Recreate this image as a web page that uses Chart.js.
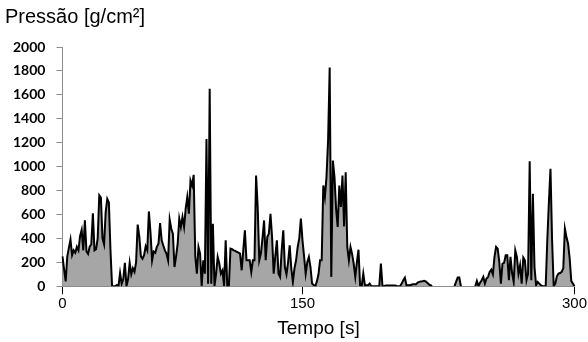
<!DOCTYPE html>
<html>
<head>
<meta charset="utf-8">
<script src="https://cdn.jsdelivr.net/npm/chart.js@4/dist/chart.umd.min.js"></script>
<style>
  html, body { margin: 0; padding: 0; background: #fff; }
  canvas { display: block; }
</style>
</head>
<body>
<canvas id="pressureChart" width="588" height="342"></canvas>
<script>
// Pressure readings, one per second
const pressure = [
    250, 140, 40, 250, 320, 390, 260, 300, 280, 330,
    300, 420, 470, 300, 550, 290, 270, 330, 350, 610,
    300, 310, 400, 760, 740, 400, 350, 620, 730, 700,
    300, 0, 0, 0, 10, 0, 110, 20, 60, 195,
    0, 60, 195, 100, 150, 120, 200, 515, 417, 250,
    230, 260, 333, 300, 625, 450, 217, 290, 280, 330,
    355, 528, 383, 340, 300, 272, 217, 556, 480, 440,
    160, 250, 355, 565, 495, 578, 495, 648, 745, 606,
    884, 842, 931, 250, 105, 328, 272, 0, 217, 105,
    1230, 20, 1650, 20, 522, 0, 105, 245, 190, 105,
    133, 0, 383, 0, 0, 314, 310, 300, 295, 286,
    280, 272, 133, 300, 467, 217, 217, 217, 120, 217,
    217, 926, 662, 217, 272, 400, 550, 217, 411, 440,
    606, 411, 105, 250, 383, 105, 78, 300, 467, 160,
    100, 200, 342, 150, 36, 150, 217, 328, 400, 565,
    383, 250, 105, 200, 245, 160, 22, 10, 0, 40,
    100, 217, 217, 842, 745, 912, 1218, 1829, 78, 1050,
    912, 648, 495, 842, 662, 926, 500, 953, 328, 217,
    328, 270, 189, 78, 200, 305, 8, 0, 105, 8,
    8, 8, 22, 0, 0, 0, 0, 0, 0, 189,
    0, 0, 5, 5, 5, 5, 5, 5, 5, 0,
    0, 0, 22, 50, 72, 8, 8, 8, 12, 16,
    16, 16, 30, 36, 40, 42, 45, 40, 28, 15,
    8, 0, null, null, null, null, null, null, null, null,
    null, null, null, null, null, 0, 36, 72, 72, 0,
    null, null, null, null, null, null, null, null, 0, 44,
    0, 30, 50, 78, 22, 65, 78, 120, 139, 100,
    245, 328, 314, 203, 22, 189, 195, 259, 259, 50,
    245, 110, 36, 300, 245, 105, 175, 22, 239, 217,
    50, 105, 1045, 50, 773, 160, 8, 36, 22, 8,
    0, 0, 0, 384, 700, 981, 384, 0, 22, 83,
    105, 110, 120, 150, 481, 411, 356, 230, 44, 22,
    0
];

// Categories (sample index) and the labelled ticks on the time axis
const seconds = pressure.map((v, i) => i);
const xTickIndex = [0, 150, 320];
const xTickLabels = ['0', '150', '300'];
const yTicks = [0, 200, 400, 600, 800, 1000, 1200, 1400, 1600, 1800, 2000];

// Draws the y axis title horizontally above the plot
const yTitlePlugin = {
    id: 'yTitle',
    afterDraw(chart) {
        const ctx = chart.ctx;
        ctx.save();
        ctx.fillStyle = '#000';
        ctx.font = '20px "Liberation Sans", Arial, sans-serif';
        ctx.textAlign = 'left';
        ctx.textBaseline = 'middle';
        ctx.fillText('Pressão [g/cm²]', 5, 17);
        ctx.restore();
    }
};

const ctx = document.getElementById('pressureChart').getContext('2d');
new Chart(ctx, {
    type: 'line',
    data: {
        labels: seconds,
        datasets: [{
            data: pressure,
            borderColor: '#000000',
            borderWidth: 2,
            backgroundColor: '#a6a6a6',
            fill: 'origin',
            pointRadius: 0,
            tension: 0,
            spanGaps: false
        }]
    },
    options: {
        responsive: false,
        animation: false,
        devicePixelRatio: 1,
        layout: {
            padding: { left: 2, right: 0, top: 47, bottom: 2 }
        },
        plugins: {
            legend: { display: false },
            tooltip: { enabled: false }
        },
        scales: {
            x: {
                type: 'category',
                offset: false,
                grid: {
                    drawOnChartArea: false,
                    color: '#000',
                    tickLength: 8
                },
                border: { color: '#8c8c8c', width: 1 },
                ticks: {
                    autoSkip: false,
                    maxRotation: 0,
                    color: '#000',
                    padding: 1,
                    font: { family: '"Liberation Sans", Arial, sans-serif', size: 15 },
                    callback: function (val, idx) {
                        const k = xTickIndex.indexOf(idx);
                        return k >= 0 ? xTickLabels[k] : null;
                    }
                },
                title: {
                    display: true,
                    text: 'Tempo [s]',
                    color: '#000',
                    padding: { top: 3, bottom: 0 },
                    font: { family: '"Liberation Sans", Arial, sans-serif', size: 19 }
                }
            },
            y: {
                min: 0,
                max: 2000,
                afterBuildTicks: function (axis) {
                    axis.ticks = yTicks.map(v => ({ value: v }));
                },
                grid: {
                    drawOnChartArea: false,
                    color: '#8c8c8c',
                    tickLength: 6
                },
                border: { color: '#8c8c8c', width: 1 },
                ticks: {
                    color: '#000',
                    padding: 11,
                    font: { family: 'Lato, "Open Sans", sans-serif', size: 14, weight: 'bold' },
                    callback: function (val) {
                        return String(val);
                    }
                }
            }
        }
    },
    plugins: [yTitlePlugin]
});
</script>
</body>
</html>
